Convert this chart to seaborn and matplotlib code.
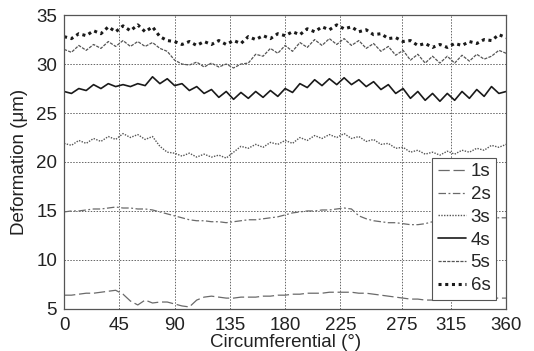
import numpy as np
import pandas as pd
import matplotlib
matplotlib.use("Agg")
import matplotlib.pyplot as plt
import seaborn as sns

# angles every 6 degrees (0..360)
angles = np.arange(0, 361, 6)

d_1s = [6.4, 6.4, 6.5, 6.6, 6.6, 6.7, 6.8, 6.9, 6.5, 5.8, 5.4, 5.9, 5.6, 5.7, 5.7, 5.5,
        5.3, 5.2, 5.9, 6.2, 6.3, 6.2, 6.1, 6.1, 6.2, 6.2, 6.2, 6.3, 6.3, 6.4, 6.4, 6.5,
        6.5, 6.6, 6.6, 6.6, 6.7, 6.7, 6.7, 6.7, 6.6, 6.6, 6.5, 6.4, 6.3, 6.2, 6.1, 6.0,
        6.0, 5.9, 5.9, 5.9, 5.9, 6.0, 6.0, 6.0, 6.0, 6.0, 6.1, 6.1, 6.1]
d_2s = [14.9, 15.0, 15.0, 15.1, 15.2, 15.2, 15.3, 15.4, 15.3, 15.3, 15.2, 15.2, 15.1, 14.9,
        14.7, 14.5, 14.3, 14.1, 14.0, 14.0, 13.9, 13.9, 13.8, 13.9, 14.0, 14.1, 14.1, 14.2,
        14.3, 14.4, 14.6, 14.8, 14.9, 15.0, 15.0, 15.1, 15.1, 15.2, 15.3, 15.2, 14.5, 14.2,
        14.0, 13.9, 13.8, 13.8, 13.7, 13.6, 13.6, 13.7, 13.9, 14.2, 14.3, 14.3, 14.3, 14.3,
        14.3, 14.3, 14.3, 14.3, 14.3]
d_3s = [21.9, 21.7, 22.2, 21.9, 22.4, 22.1, 22.6, 22.3, 22.9, 22.5, 22.8, 22.3, 22.6, 21.6,
        21.0, 20.9, 20.6, 20.9, 20.5, 20.8, 20.5, 20.7, 20.4, 21.0, 21.6, 21.4, 21.8, 21.5,
        22.0, 21.8, 22.2, 21.9, 22.5, 22.2, 22.7, 22.4, 22.8, 22.5, 22.9, 22.4, 22.6, 22.1,
        22.3, 21.8, 21.9, 21.4, 21.5, 21.0, 21.2, 20.8, 21.0, 20.7, 21.1, 20.8, 21.2, 21.0,
        21.4, 21.2, 21.7, 21.5, 21.8]
d_4s = [27.2, 27.0, 27.5, 27.3, 27.9, 27.5, 28.0, 27.7, 27.9, 27.7, 28.0, 27.8, 28.7, 28.0,
        28.5, 27.8, 28.0, 27.3, 27.7, 27.0, 27.4, 26.6, 27.2, 26.4, 27.1, 26.5, 27.2, 26.6,
        27.3, 26.7, 27.5, 27.1, 28.0, 27.6, 28.4, 27.8, 28.5, 27.9, 28.6, 27.9, 28.4, 27.7,
        28.2, 27.4, 27.9, 27.0, 27.5, 26.5, 27.2, 26.3, 27.0, 26.2, 27.0, 26.3, 27.2, 26.5,
        27.4, 26.7, 27.7, 27.0, 27.2]
d_5s = [31.5, 31.2, 31.9, 31.4, 32.0, 31.6, 32.3, 31.8, 32.4, 31.8, 32.3, 31.8, 32.2, 31.6,
        31.3, 30.4, 30.0, 29.9, 30.2, 29.7, 30.1, 29.7, 30.0, 29.6, 30.0, 30.1, 31.0, 30.8,
        31.6, 31.1, 31.9, 31.3, 32.2, 31.7, 32.5, 31.9, 32.6, 32.0, 32.6, 31.9, 32.4, 31.6,
        32.1, 31.3, 31.8, 30.9, 31.4, 30.4, 31.0, 30.1, 30.8, 30.1, 30.8, 30.1, 30.9, 30.3,
        31.0, 30.5, 30.8, 31.4, 31.1]
d_6s = [32.8, 32.6, 33.1, 32.9, 33.4, 33.1, 33.8, 33.3, 33.9, 33.4, 34.0, 33.3, 33.8, 32.8,
        32.4, 32.3, 32.0, 32.3, 31.9, 32.3, 32.0, 32.4, 32.0, 32.4, 32.1, 32.8, 32.5, 32.9,
        32.6, 33.1, 32.9, 33.3, 33.0, 33.6, 33.3, 33.8, 33.5, 34.0, 33.6, 33.8, 33.3, 33.5,
        33.0, 33.1, 32.6, 32.7, 32.3, 32.4, 31.9, 32.1, 31.7, 32.0, 31.7, 32.1, 31.9, 32.3,
        32.1, 32.5, 32.4, 33.0, 32.7]

labels = ["1s", "2s", "3s", "4s", "5s", "6s"]
series = [d_1s, d_2s, d_3s, d_4s, d_5s, d_6s]
xticks = [0, 45, 90, 135, 180, 225, 275, 315, 360]
yticks = [5, 10, 15, 20, 25, 30, 35]

styles = {
    "1s": dict(color="#6a6a6a", lw=0.9, ls=(0, (9, 3))),
    "2s": dict(color="#6a6a6a", lw=0.9, ls=(0, (6, 2, 1.5, 2))),
    "3s": dict(color="#555555", lw=1.0, ls=(0, (1, 1))),
    "4s": dict(color="#1a1a1a", lw=1.2, ls="-"),
    "5s": dict(color="#555555", lw=0.9, ls=(0, (2.5, 1))),
    "6s": dict(color="#1a1a1a", lw=2.2, ls=(0, (1, 1.2))),
}

sns.set_style("white")
plt.rcParams["font.family"] = ["Liberation Sans", "DejaVu Sans"]

fig = plt.figure(figsize=(5.34, 3.51), dpi=100)
ax = fig.add_axes([0.12, 0.12, 0.828, 0.837])

for lab, vals in zip(labels, series):
    st = styles[lab]
    sns.lineplot(x=angles, y=vals, ax=ax, label=lab, color=st["color"],
                 linewidth=st["lw"], linestyle=st["ls"])

ax.set_xlim(0, 360)
ax.set_ylim(5, 35)
ax.set_xticks(xticks)
ax.set_yticks(yticks)
ax.tick_params(axis="both", labelsize=13.5, length=2, direction="in",
               colors="#222222")
ax.tick_params(axis="x", pad=6)
ax.tick_params(axis="y", pad=5)
ax.grid(True, color="#666666", linestyle=(0, (1.5, 1.5)), linewidth=0.7)
for sp in ax.spines.values():
    sp.set_color("#555555")
    sp.set_linewidth(0.9)
ax.set_xlabel("Circumferential (°)", fontsize=13.5, labelpad=0, color="#222222")
ax.set_ylabel("Deformation (μm)", fontsize=13.5, labelpad=6, color="#222222")

leg = ax.legend(loc="lower right", bbox_to_anchor=(0.977, 0.031), borderaxespad=0,
                fontsize=13.5, handlelength=1.5, handletextpad=0.25, labelspacing=0.3,
                borderpad=0.3, fancybox=False, framealpha=1, edgecolor="#555555")
leg.get_frame().set_linewidth(0.8)

fig.savefig("out.png", dpi=100)
